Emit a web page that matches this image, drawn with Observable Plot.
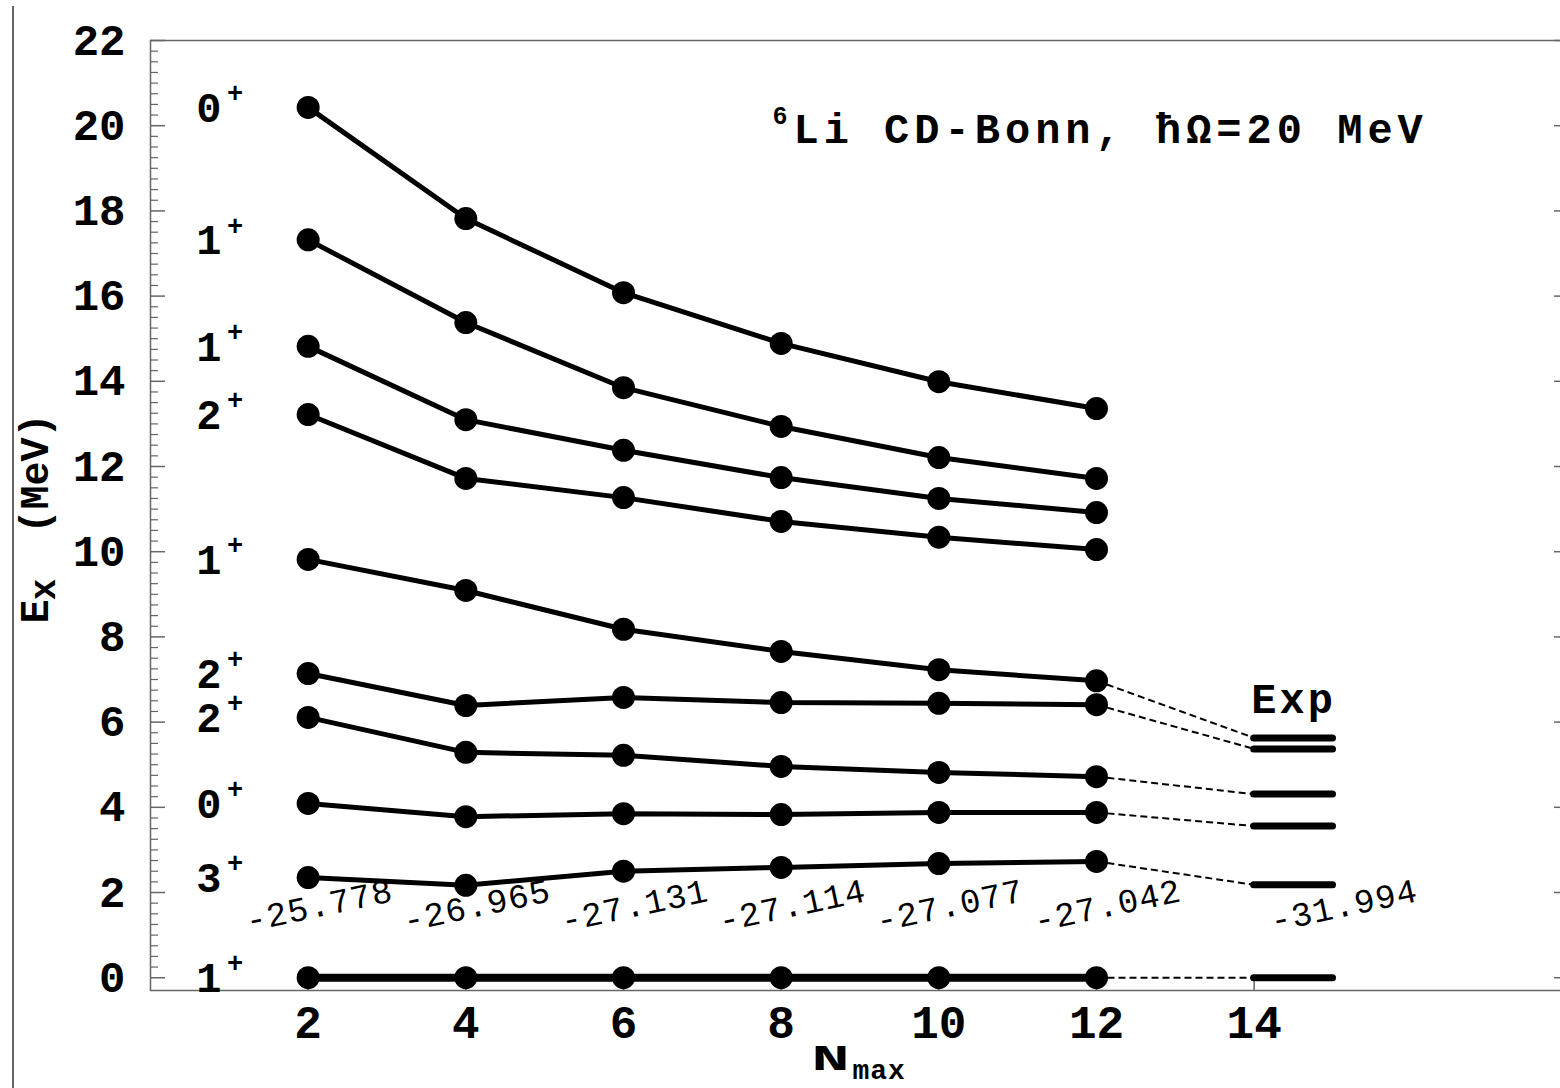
<!DOCTYPE html>
<html>
<head>
<meta charset="utf-8">
<script src="https://cdn.jsdelivr.net/npm/d3@7"></script>
<script src="https://cdn.jsdelivr.net/npm/@observablehq/plot@0.6"></script>
<style>
  html, body { margin: 0; padding: 0; overflow: hidden; background: white; }
  #wrap { position: relative; width: 1569px; height: 1088px; overflow: hidden; }
  #wrap svg { max-width: none !important; }
  #edge { position: absolute; left: 12px; top: 6px; bottom: 0; width: 1.5px; background: #666; }
</style>
</head>
<body>
<div id="wrap"><div id="edge"></div></div>
<script>
// ---- data ----
const nmax = [2, 4, 6, 8, 10, 12];
const spinJ = ["1", "3", "0", "2", "2", "1", "2", "1", "1", "0"];
const parity = ["+", "+", "+", "+", "+", "+", "+", "+", "+", "+"];
const s1a = [0, 0, 0, 0, 0, 0];
const s3a = [2.35, 2.17, 2.50, 2.59, 2.68, 2.73];
const s0a = [4.09, 3.78, 3.85, 3.83, 3.88, 3.88];
const s2a = [6.11, 5.29, 5.22, 4.96, 4.82, 4.72];
const s2b = [7.14, 6.39, 6.58, 6.46, 6.44, 6.41];
const s1b = [9.82, 9.09, 8.18, 7.66, 7.23, 6.97];
const s2c = [13.22, 11.72, 11.27, 10.71, 10.34, 10.05];
const s1c = [14.82, 13.10, 12.38, 11.74, 11.25, 10.92];
const s1d = [17.32, 15.38, 13.85, 12.94, 12.21, 11.72];
const s0b = [20.43, 17.82, 16.08, 14.89, 13.99, 13.36];
const series = [s1a, s3a, s0a, s2a, s2b, s1b, s2c, s1c, s1d, s0b];

// experiment (x extent of the level bars and energies), linked to series index
const expX1 = 14, expX2 = 15;
const expE = [0, 2.18, 3.56, 4.31, 5.37, 5.63];
const expLink = [0, 1, 2, 3, 4, 5];

// ground-state binding energies
const gsN = [2, 4, 6, 8, 10, 12, 15];
const gsText = ["-25.778", "-26.965", "-27.131", "-27.114", "-27.077", "-27.042", "-31.994"];

const yMajor = [0, 2, 4, 6, 8, 10, 12, 14, 16, 18, 20, 22];
const yMinor = d3.range(0, 88).map(i => i * 0.25).filter(v => v % 2 !== 0 && v <= 22);
const xTicks = [2, 4, 6, 8, 10, 12, 14];

const titleText = "Li CD-Bonn, ħΩ=20 MeV";
const titleSup = "6";

// ---- derived tables ----
const pts = [];
series.forEach((s, k) => s.forEach((e, i) => pts.push({k, n: nmax[i], e})));
const levelLabels = series.map((s, k) => ({n: nmax[0], e: s[0], j: spinJ[k], p: parity[k]}));
const links = expE.map((e, i) => ({x1: nmax[nmax.length - 1], y1: series[expLink[i]][nmax.length - 1], x2: expX1, y2: e}));
const gs = gsN.map((n, i) => ({n, t: gsText[i]}));

// ---- layout ----
const W = 1569, H = 1088, mL = 150, mT = 40, mB = 98, mR = 0;
const pw = W - mL - mR, ph = H - mT - mB;
const font = "'Nimbus Mono PS', 'Courier New', 'Liberation Mono', monospace";
const gray = "#666";

const svg = Plot.plot({
  width: W, height: H,
  marginLeft: mL, marginRight: mR, marginTop: mT, marginBottom: mB,
  x: {domain: [0, 18], axis: null},
  y: {domain: [-0.3, 22], axis: null},
  style: {fontFamily: font, background: "white", overflow: "visible", maxWidth: "none"},
  marks: [
    Plot.frame({stroke: gray, strokeWidth: 1.5}),
    // y ticks (inward) left
    Plot.tickY(yMajor, {y: d => d, insetRight: pw - 15, stroke: gray, strokeWidth: 1.5}),
    Plot.tickY(yMinor, {y: d => d, insetRight: pw - 8, stroke: gray, strokeWidth: 1.2}),
    // right side
    Plot.tickY(yMajor, {y: d => d, insetLeft: pw - 15, stroke: gray, strokeWidth: 1.5}),
    // x ticks (inward) bottom
    Plot.tickX(xTicks, {x: d => d, insetTop: ph - 10, stroke: gray, strokeWidth: 1.5}),
    // tick labels
    Plot.text(yMajor, {y: d => d, text: d => String(d), frameAnchor: "left", textAnchor: "end", lineAnchor: "middle", dx: -25,
      fontSize: 44, fontWeight: "bold", fill: "black"}),
    Plot.text(xTicks, {x: d => d, text: d => String(d), frameAnchor: "bottom", textAnchor: "middle", lineAnchor: "middle", dy: 33,
      fontSize: 46, fontWeight: "bold", fill: "black"}),
    // dashed links to experiment
    Plot.link(links, {x1: "x1", y1: "y1", x2: "x2", y2: "y2", stroke: "black", strokeWidth: 2, strokeDasharray: "7,4"}),
    // experimental levels
    Plot.ruleY(expE, {y: d => d, x1: expX1, x2: expX2, stroke: "black", strokeWidth: 7, strokeLinecap: "round"}),
    // calculated levels
    Plot.line(pts.filter(d => d.k > 0), {x: "n", y: "e", z: "k", stroke: "black", strokeWidth: 5}),
    Plot.line(pts.filter(d => d.k === 0), {x: "n", y: "e", stroke: "black", strokeWidth: 8}),
    Plot.dot(pts, {x: "n", y: "e", r: 11.5, fill: "black", stroke: null}),
    // level labels
    Plot.text(levelLabels, {x: "n", y: "e", text: "j", textAnchor: "start", dx: -112, dy: 1,
      fontSize: 42, fontWeight: "bold", fill: "black"}),
    Plot.text(levelLabels, {x: "n", y: "e", text: "p", dx: -73, dy: -14,
      fontSize: 27, fontWeight: "bold", fill: "black"}),
    // ground-state energies
    Plot.text(gs, {x: "n", y: () => 0, text: "t", rotate: -12, dx: 11, dy: -72,
      fontSize: 34, fill: "black"}),
    // Exp label
    Plot.text(["Exp"], {x: () => (expX1 + expX2) / 2, y: () => d3.max(expE), text: d => d, lineAnchor: "bottom", dy: -25,
      fontSize: 42, fontWeight: "bold", fill: "black"}),
    // title
    Plot.text([titleSup], {frameAnchor: "top-left", text: d => d, textAnchor: "start", lineAnchor: "bottom",
      dx: 622, dy: 83, fontSize: 25, fontWeight: "bold", fill: "black"}),
    Plot.text([titleText], {frameAnchor: "top-left", text: d => d, textAnchor: "start", lineAnchor: "bottom",
      dx: 643, dy: 102, fontSize: 42, fontWeight: "bold", fill: "black"}),
    // y axis label
    Plot.text(["(MeV)"], {frameAnchor: "left", text: d => d, rotate: -90, textAnchor: "middle", lineAnchor: "bottom",
      dx: -103, dy: -42, fontSize: 40, fontWeight: "bold", fill: "black"}),
    Plot.text(["E"], {frameAnchor: "left", text: d => d, rotate: -90, textAnchor: "middle", lineAnchor: "bottom",
      dx: -103, dy: 96, fontSize: 40, fontWeight: "bold", fill: "black"}),
    Plot.text(["x"], {frameAnchor: "left", text: d => d, rotate: -90, textAnchor: "middle", lineAnchor: "bottom",
      dx: -96, dy: 74, fontSize: 36, fontWeight: "bold", fill: "black"}),
    // x axis label
    Plot.text(["N"], {frameAnchor: "bottom-left", text: d => d, textAnchor: "start", lineAnchor: "bottom",
      dx: 661, dy: 79, fontSize: 36, fontWeight: "bold", fill: "black"}),
    Plot.text(["max"], {frameAnchor: "bottom-left", text: d => d, textAnchor: "start", lineAnchor: "bottom",
      dx: 702, dy: 88, fontSize: 28, fontWeight: "bold", fill: "black"})
  ]
});
svg.style.maxWidth = "none";

d3.select(svg).selectAll("text").each(function () {
  const t = this.textContent;
  if (t === titleText) this.setAttribute("letter-spacing", "5");
  if (t === "Exp") this.setAttribute("letter-spacing", "3");
  if (t === "N") { this.setAttribute("textLength", "38"); this.setAttribute("lengthAdjust", "spacingAndGlyphs"); }
  if (t === "max") this.setAttribute("letter-spacing", "1");
  if (gsText.includes(t)) this.setAttribute("letter-spacing", "1");
});

document.getElementById("wrap").appendChild(svg);
</script>
</body>
</html>
